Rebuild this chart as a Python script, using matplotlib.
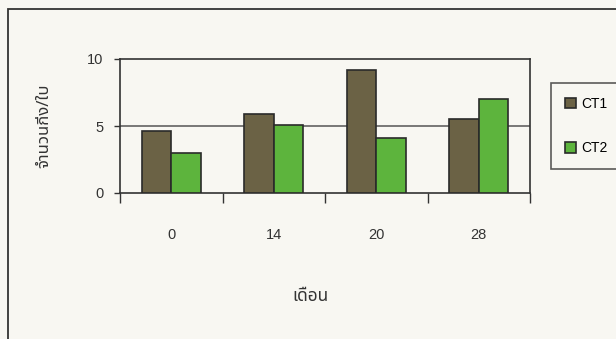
import numpy as np
import matplotlib
matplotlib.use("Agg")
import matplotlib.pyplot as plt
from matplotlib import font_manager
from matplotlib.ft2font import FT2Font
from matplotlib.patches import Rectangle

months = ["0", "14", "20", "28"]
ct1 = [4.6, 5.9, 9.2, 5.5]
ct2 = [3.0, 5.1, 4.1, 7.0]
series_names = ["CT1", "CT2"]
y_ticks = [0, 5, 10]
x_title = "เดือน"
y_title = "จำนวนกิ่ง/ใบ"


def find_thai_font():
    # pick any installed font that can draw Thai script
    preferred = ["Noto Sans Thai", "Noto Sans Thai UI", "Loma", "Garuda", "Norasi",
                 "Tlwg Typo", "Kinnari", "Sawasdee", "Umpush", "Waree"]
    found = []
    for f in font_manager.fontManager.ttflist:
        try:
            cmap = FT2Font(f.fname).get_charmap()
        except Exception:
            continue
        if ord("ก") in cmap and ord("ื") in cmap:
            found.append(f.name)
    for name in preferred:
        if name in found:
            return name
    return found[0] if found else None


thai = find_thai_font()
families = ["Liberation Sans", "DejaVu Sans"]
thai_families = ([thai] if thai else []) + families
plt.rcParams["font.family"] = families

bg = "#f8f7f2"
c1 = "#6b6245"
c2 = "#5db43d"
edge = "#2a2a2a"

fig = plt.figure(figsize=(6.16, 3.39), dpi=100, facecolor=bg)
W, H = 616, 339

# outer chart frame, running off the right and bottom edges
fig.patches.append(Rectangle((8 / W, -0.1), 1.2, 1 - 9 / H + 0.1,
                             transform=fig.transFigure, fill=False,
                             edgecolor="#333333", lw=1.3))

ax = fig.add_axes([120 / W, 1 - 193 / H, 410 / W, 134 / H])
ax.set_facecolor(bg)

x = np.arange(len(months))
w = 1 / 3.5
ax.bar(x - w / 2, ct1, w, color=c1, edgecolor=edge, lw=1.2, label=series_names[0], zorder=3)
ax.bar(x + w / 2, ct2, w, color=c2, edgecolor=edge, lw=1.2, label=series_names[1], zorder=3)

ax.set_xlim(-0.5, len(months) - 0.5)
ax.set_ylim(0, 10)
ax.set_yticks(y_ticks)
ax.tick_params(axis="y", length=4, width=1, colors="#333333", labelsize=10.5, pad=8)
ax.axhline(5, color="#555555", lw=1.1, zorder=1)

# category ticks sit between the groups, labels centred on the groups
ax.set_xticks(np.arange(len(months) + 1) - 0.5)
ax.set_xticklabels([])
ax.set_xticks(x, minor=True)
ax.set_xticklabels(months, minor=True, fontsize=10.5)
ax.tick_params(axis="x", which="major", direction="out", length=7, width=1, colors="#333333")
ax.tick_params(axis="x", which="minor", length=0, pad=25, labelcolor="#333333")

for s in ax.spines.values():
    s.set_color("#333333")
    s.set_linewidth(1.2)

fig.text(310 / W, 1 - 296 / H, x_title, ha="center", va="center", fontsize=12.5,
         family=thai_families, color="#333333")
fig.text(44 / W, 1 - 126 / H, y_title, ha="center", va="center", fontsize=12,
         rotation=90, family=thai_families, color="#333333", fontweight="bold")

leg = fig.legend(loc="upper left", bbox_to_anchor=(551 / W, 1 - 83 / H),
                 frameon=True, fontsize=10, handlelength=0.8, handleheight=0.8,
                 labelspacing=2.2, borderpad=1.0, handletextpad=0.4,
                 borderaxespad=0, fancybox=False)
leg.get_frame().set_edgecolor("#333333")
leg.get_frame().set_linewidth(1.2)
leg.get_frame().set_facecolor(bg)

fig.savefig("out.png", dpi=100, facecolor=bg)
